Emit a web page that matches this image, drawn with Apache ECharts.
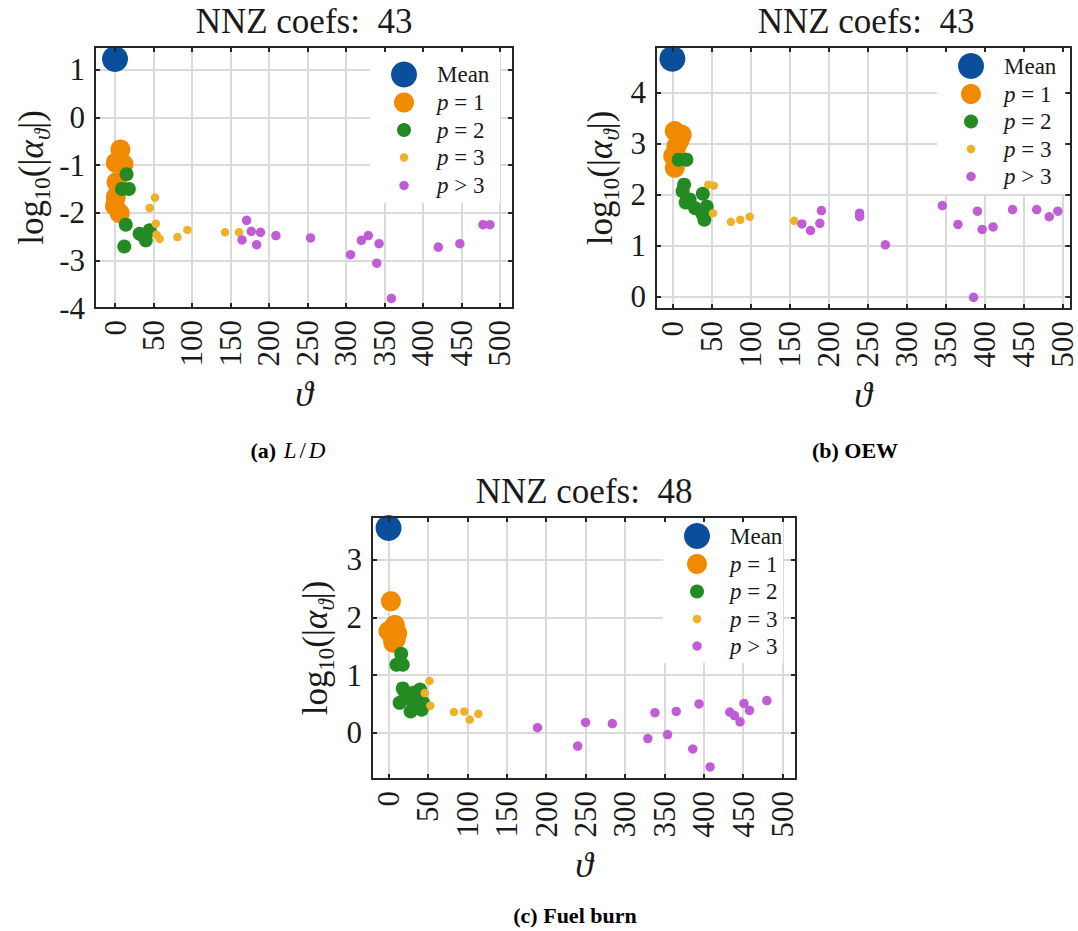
<!DOCTYPE html>
<html>
<head>
<meta charset="utf-8">
<script src="https://cdn.jsdelivr.net/npm/echarts@6/dist/echarts.min.js"></script>
<style>
  html, body { margin: 0; padding: 0; background: #ffffff; }
  #chart { width: 1078px; height: 931px; }
</style>
</head>
<body>
<div id="chart"></div>
<script>
// ---- tick values -------------------------------------------------------
const thetaTicks = [0, 50, 100, 150, 200, 250, 300, 350, 400, 450, 500];
const ldTicks = [-4, -3, -2, -1, 0, 1];
const oewTicks = [0, 1, 2, 3, 4];
const fuelTicks = [0, 1, 2, 3];

// ---- coefficient groups (legend order) ---------------------------------
const groupNames = ['Mean', 'p = 1', 'p = 2', 'p = 3', 'p > 3'];

// ---- (a) L/D : [ϑ, log10|α_ϑ|] -----------------------------------------
const ldMean = [[0, 1.23]];
const ldP1 = [[7, -0.67], [1, -0.95], [11, -0.98], [2, -1.36], [1, -1.67], [0, -1.86], [6, -2.01]];
const ldP2 = [[15, -1.19], [9, -1.50], [18, -1.50], [14, -2.25], [32, -2.44], [37, -2.49],
              [45, -2.37], [40, -2.58], [12, -2.71]];
const ldP3 = [[52, -1.68], [45, -1.90], [53, -2.23], [54, -2.46], [58, -2.55], [81, -2.51],
              [94, -2.36], [143, -2.41], [161, -2.41]];
const ldP4 = [[171, -2.16], [177, -2.39], [189, -2.41], [165, -2.57], [184, -2.67], [209, -2.48],
              [254, -2.53], [306, -2.88], [320, -2.58], [329, -2.48], [343, -2.65], [340, -3.06],
              [359, -3.80], [420, -2.72], [448, -2.65], [478, -2.25], [487, -2.25]];

// ---- (b) OEW -----------------------------------------------------------
const oewMean = [[0, 4.66]];
const oewP1 = [[3, 3.24], [12, 3.17], [9, 3.05], [5, 2.94], [7, 2.70], [1, 2.75], [3, 2.52]];
const oewP2 = [[8, 2.68], [18, 2.68], [15, 2.19], [13, 2.06], [39, 2.01], [17, 1.84], [22, 1.90],
               [29, 1.73], [44, 1.76], [38, 1.63], [41, 1.50]];
const oewP3 = [[46, 2.19], [53, 2.17], [52, 1.63], [75, 1.46], [87, 1.50], [99, 1.56], [156, 1.48]];
const oewP4 = [[166, 1.42], [177, 1.29], [189, 1.43], [191, 1.68], [240, 1.63], [240, 1.56],
               [273, 1.01], [346, 1.78], [366, 1.41], [386, -0.02], [391, 1.67], [397, 1.31],
               [411, 1.36], [436, 1.70], [467, 1.70], [483, 1.56], [494, 1.67]];

// ---- (c) Fuel burn -----------------------------------------------------
const fuelMean = [[0, 3.55]];
const fuelP1 = [[3, 2.28], [8, 1.87], [4, 1.80], [0, 1.76], [11, 1.72], [5, 1.65], [9, 1.62], [6, 1.56]];
const fuelP2 = [[16, 1.37], [10, 1.18], [18, 1.18], [18, 0.77], [20, 0.72], [33, 0.70], [40, 0.75],
                [38, 0.63], [22, 0.60], [30, 0.55], [14, 0.52], [44, 0.52], [35, 0.45],
                [42, 0.40], [28, 0.37]];
const fuelP3 = [[52, 0.90], [46, 0.69], [53, 0.47], [83, 0.36], [96, 0.37], [103, 0.23], [114, 0.33]];
const fuelP4 = [[189, 0.09], [240, -0.23], [250, 0.18], [284, 0.16], [329, -0.10], [338, 0.35],
                [354, -0.03], [365, 0.37], [386, -0.28], [394, 0.50], [408, -0.59], [433, 0.36],
                [439, 0.30], [446, 0.19], [451, 0.51], [458, 0.39], [480, 0.56]];

// ---- styling -----------------------------------------------------------
const SERIF = "'Liberation Serif', 'DejaVu Serif', serif";
const INK = '#1a1a1a';
const FRAME = '#262626';
const GRIDLINE = '#dadada';
const groupColors = ['#0b4f9c', '#f08a00', '#238b22', '#efb12a', '#c05cd6'];
const groupSizes = [26, 20, 14, 8.5, 9.5];
const LEGEND_ICON_BOX = 56;   // icon slot width; text starts half a slot + 5px right of the icon centre

const panels = [
  {
    groups: [ldMean, ldP1, ldP2, ldP3, ldP4], yTicks: ldTicks,
    grid: { left: 95, top: 47, width: 418, height: 261 },
    xRange: [-26, 517], yRange: [-4, 1.48], yNameGap: 41,
    titleX: 304, titleY: 21,
    caption: '{b|(a)} {i|L}{m|/}{i|D}', captionX: 289, captionY: 450,
    legendBox: [370, 49, 130, 154], legendX: 404, legendY: [74.5, 102.5, 130, 157.5, 185.5]
  },
  {
    groups: [oewMean, oewP1, oewP2, oewP3, oewP4], yTicks: oewTicks,
    grid: { left: 656, top: 47, width: 418, height: 262 },
    xRange: [-21, 510], yRange: [-0.25, 4.89], yNameGap: 33,
    titleX: 866, titleY: 21,
    caption: '{b|(b) OEW}', captionX: 855, captionY: 450,
    legendBox: [937, 49, 129, 145], legendX: 971, legendY: [66, 94, 121.5, 149, 176.5]
  },
  {
    groups: [fuelMean, fuelP1, fuelP2, fuelP3, fuelP4], yTicks: fuelTicks,
    grid: { left: 372, top: 517, width: 424, height: 262 },
    xRange: [-21, 517], yRange: [-0.8, 3.74], yNameGap: 34,
    titleX: 584, titleY: 491,
    caption: '{b|(c) Fuel burn}', captionX: 575, captionY: 915,
    legendBox: [663, 519, 120, 144], legendX: 697, legendY: [536, 564, 591.5, 619, 646]
  }
];

const tickStyle = { inside: true, length: 5, lineStyle: { color: FRAME, width: 2 } };
const frameLine = { show: true, onZero: false, lineStyle: { color: FRAME, width: 2 } };
const tickFont = { fontFamily: SERIF, fontSize: 31, color: INK };

const grids = [], xAxes = [], yAxes = [], series = [], legends = [], graphics = [];

panels.forEach((p, i) => {
  grids.push(Object.assign({ containLabel: false }, p.grid));

  // bottom ϑ axis with labels and vertical grid lines
  xAxes.push({
    type: 'value', gridIndex: i, position: 'bottom', min: p.xRange[0], max: p.xRange[1],
    axisLine: frameLine,
    axisTick: Object.assign({ customValues: thetaTicks }, tickStyle),
    axisLabel: Object.assign({ customValues: thetaTicks, rotate: 90, margin: 12, lineHeight: 24 }, tickFont),
    splitLine: { show: true, lineStyle: { color: GRIDLINE, width: 2 } },
    name: 'ϑ', nameLocation: 'middle', nameGap: 68,
    nameTextStyle: { fontFamily: SERIF, fontSize: 36, fontStyle: 'italic', color: INK, lineHeight: 36 }
  });
  // top frame edge with ticks
  xAxes.push({
    type: 'value', gridIndex: i, position: 'top', min: p.xRange[0], max: p.xRange[1], z: 3,
    axisLine: frameLine,
    axisTick: Object.assign({ customValues: thetaTicks }, tickStyle),
    axisLabel: { show: false }, splitLine: { show: false }
  });

  // left log10|α| axis
  yAxes.push({
    type: 'value', gridIndex: i, position: 'left', min: p.yRange[0], max: p.yRange[1],
    axisLine: frameLine,
    axisTick: Object.assign({ customValues: p.yTicks }, tickStyle),
    axisLabel: Object.assign({ customValues: p.yTicks, margin: 10 }, tickFont),
    splitLine: { show: true, lineStyle: { color: GRIDLINE, width: 2 } },
    name: '{m|log}{s|10}{m|(|}{i|α}{t|ϑ}{m||)}', nameLocation: 'middle', nameRotate: 90,
    nameGap: p.yNameGap,
    nameTextStyle: {
      fontFamily: SERIF, fontSize: 35, color: INK, lineHeight: 46,
      rich: {
        m: { fontFamily: SERIF, fontSize: 35, lineHeight: 46, color: INK },
        i: { fontFamily: SERIF, fontSize: 35, lineHeight: 46, color: INK, fontStyle: 'italic' },
        s: { fontFamily: SERIF, fontSize: 23, lineHeight: 26, color: INK, verticalAlign: 'bottom' },
        t: { fontFamily: SERIF, fontSize: 23, lineHeight: 26, color: INK, verticalAlign: 'bottom', fontStyle: 'italic' }
      }
    }
  });
  // right frame edge with ticks
  yAxes.push({
    type: 'value', gridIndex: i, position: 'right', min: p.yRange[0], max: p.yRange[1], z: 3,
    axisLine: frameLine,
    axisTick: Object.assign({ customValues: p.yTicks }, tickStyle),
    axisLabel: { show: false }, splitLine: { show: false }
  });

  p.groups.forEach((data, g) => {
    series.push({
      type: 'scatter', name: groupNames[g], xAxisIndex: 2 * i, yAxisIndex: 2 * i,
      data: data, symbol: 'circle', symbolSize: groupSizes[g],
      itemStyle: { color: groupColors[g], opacity: 1 },
      emphasis: { disabled: true }, silent: true
    });

    // one legend entry per group so that each icon keeps its marker size;
    // the legend box starts at the icon's left edge
    legends.push({
      data: [groupNames[g]], icon: 'circle', selectedMode: false, padding: 0, z: 6,
      itemWidth: LEGEND_ICON_BOX, itemHeight: groupSizes[g],
      left: p.legendX - groupSizes[g] / 2, top: p.legendY[g] - 14,
      formatter: name => name === 'Mean' ? '{r|Mean}' : '{i|p}{r|' + name.slice(1) + '}',
      textStyle: {
        fontFamily: SERIF, fontSize: 23, lineHeight: 28, color: INK,
        rich: {
          r: { fontFamily: SERIF, fontSize: 23, lineHeight: 28, color: INK },
          i: { fontFamily: SERIF, fontSize: 23, lineHeight: 28, color: INK, fontStyle: 'italic' }
        }
      }
    });
  });

  // legend background
  graphics.push({
    type: 'rect', z: 1, silent: true,
    shape: { x: p.legendBox[0], y: p.legendBox[1], width: p.legendBox[2], height: p.legendBox[3] },
    style: { fill: '#ffffff' }
  });

  // panel heading: number of non-zero coefficients
  const nnz = p.groups.reduce((n, arr) => n + arr.length, 0);
  graphics.push({
    type: 'text', x: p.titleX, y: p.titleY, silent: true,
    style: {
      text: 'NNZ coefs:  ' + nnz, fontFamily: SERIF, fontSize: 35, fill: INK,
      align: 'center', verticalAlign: 'middle'
    }
  });

  // sub-figure caption
  graphics.push({
    type: 'text', x: p.captionX, y: p.captionY, silent: true,
    style: {
      text: p.caption, fontFamily: SERIF, fontSize: 22, fill: '#000000',
      align: 'center', verticalAlign: 'middle',
      rich: {
        b: { fontFamily: SERIF, fontSize: 22, fontWeight: 'bold', fill: '#000000' },
        i: { fontFamily: SERIF, fontSize: 23, fontStyle: 'italic', fill: '#000000', padding: [0, 2, 0, 2] },
        m: { fontFamily: SERIF, fontSize: 23, fill: '#000000', padding: [0, 1, 0, 1] }
      }
    }
  });
});

const chart = echarts.init(document.getElementById('chart'), null, { renderer: 'svg' });
chart.setOption({
  animation: false,
  backgroundColor: '#ffffff',
  grid: grids,
  xAxis: xAxes,
  yAxis: yAxes,
  legend: legends,
  series: series,
  graphic: { elements: graphics }
});
</script>
</body>
</html>
